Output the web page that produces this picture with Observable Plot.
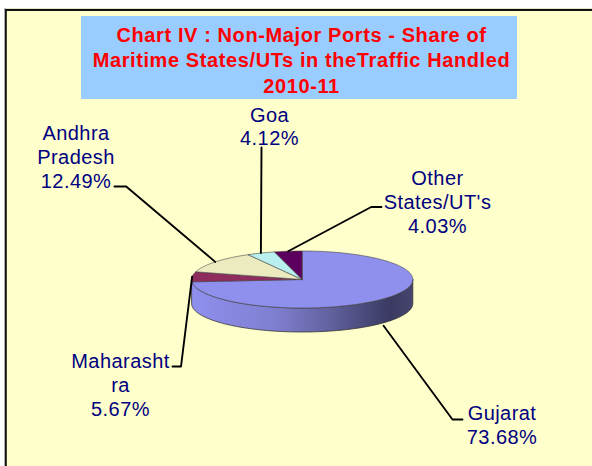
<!DOCTYPE html>
<html><head><meta charset="utf-8">
<style>html,body{margin:0;padding:0;background:#fff}svg{display:block}
.ttl text{letter-spacing:.6px}
.lbl text{letter-spacing:.45px}
</style>
<script src="https://cdn.jsdelivr.net/npm/d3@7"></script>
<script src="https://cdn.jsdelivr.net/npm/@observablehq/plot@0.6"></script>
</head><body><script>
// ---- data ----
const states = ["Gujarat","Maharashtra","Andhra Pradesh","Goa","Other States/UT's"];
const shares = [73.68,5.67,12.49,4.12,4.03];
const labelTexts = ["Gujarat\n73.68%","Maharasht\nra\n5.67%","Andhra\nPradesh\n12.49%","Goa\n4.12%","Other\nStates/UT's\n4.03%"];
const titleLines = ["Chart IV : Non-Major Ports - Share of","Maritime States/UTs in theTraffic Handled","2010-11"];
// ---- style / layout ----
const sliceColors = ["#8f8fee","#8e2c5e","#ecebc0","#b9efef","#5c0060"];
const pie = {cx:301.7, cy:279, rx:110.6, ry:28.5, depth:24};
const total = d3.sum(shares);
const cum = [0,...d3.cumsum(shares)];
const ang = v => v/total*2*Math.PI;
const px = (a,dy=0)=>({x:pie.cx+pie.rx*Math.sin(a), y:pie.cy-pie.ry*Math.cos(a)+dy});
function arcPts(a0,a1,dy=0){const n=Math.max(2,Math.ceil((a1-a0)/0.02));return d3.range(n+1).map(i=>px(a0+(a1-a0)*i/n,dy));}
const slices = states.map((s,i)=>[{x:pie.cx,y:pie.cy},...arcPts(ang(cum[i]),ang(cum[i+1])),{x:pie.cx,y:pie.cy}]);
const wall = [...arcPts(Math.PI/2,3*Math.PI/2),...arcPts(Math.PI/2,3*Math.PI/2,pie.depth).reverse()];
wall.push(wall[0]);
const mid = i => ang((cum[i]+cum[i+1])/2);
const leaders = [
 {i:0,dy:27,via:[[452,419],[462,419]]},
 {i:1,dy:0,via:[[180.5,366],[172,366]]},
 {i:2,dy:0,via:[[125.7,186],[114,186]]},
 {i:3,dy:0,via:[[261,147]]},
 {i:4,dy:0,via:[[370.7,206.5],[381,206.5]]}
].map(l=>[px(mid(l.i),l.dy),...l.via.map(([x,y])=>({x,y}))]);
const labelPos = [
 {x:501.5,y:424,lh:1.2},{x:120,y:384,lh:1.2},{x:75.5,y:156,lh:1.2},{x:269,y:126,lh:1.15},{x:437,y:200.5,lh:1.2}
].map((p,i)=>({...p,text:labelTexts[i]}));
const frame=[{x1:5.8,x2:610,y1:10,y2:490}];
const box=[{x1:81,x2:517,y1:16,y2:99}];
const titleData=titleLines.map((t,i)=>({t,x:301,y:35+25.3*i}));
const defs=()=>{const d=d3.create("svg:defs");const g=d.append("linearGradient").attr("id","wallGrad");
 [[0,"#8f8fee"],[.38,"#7f7fd0"],[.62,"#62629f"],[.9,"#3a3a62"],[1,"#45456e"]].forEach(([o,c])=>g.append("stop").attr("offset",o).attr("stop-color",c));return d.node();};

const chart=Plot.plot({
 width:592,height:466,margin:0,
 x:{domain:[0,592],range:[0,592],axis:null},
 y:{domain:[0,466],range:[0,466],axis:null},
 style:{background:"#fff"},
 marks:[
  defs,
  Plot.ruleY([8.5],{x1:4,x2:592,stroke:"#c9c592",strokeWidth:1}),
  Plot.ruleX([4.5],{y1:8,y2:466,stroke:"#aaaaaa",strokeWidth:1}),
  Plot.rect(frame,{x1:"x1",x2:"x2",y1:"y1",y2:"y2",fill:"#ffffcc",stroke:"#111",strokeWidth:2}),
  Plot.rect(box,{x1:"x1",x2:"x2",y1:"y1",y2:"y2",fill:"#99ccff"}),
  Plot.text(titleData,{x:"x",y:"y",text:"t",fill:"#ff0000",fontWeight:"bold",fontSize:20,fontFamily:"Liberation Sans",className:"ttl"}),
  Plot.line(wall,{x:"x",y:"y",fill:"url(#wallGrad)",stroke:"#333",strokeWidth:.8}),
  ...slices.map((s,i)=>Plot.line(s,{x:"x",y:"y",fill:sliceColors[i],stroke:"#444",strokeWidth:.6})),
  ...leaders.map(l=>Plot.line(l,{x:"x",y:"y",stroke:"#000",strokeWidth:1.9})),
  ...labelPos.map(p=>Plot.text([p],{x:"x",y:"y",text:"text",fill:"#000080",fontSize:20,lineHeight:p.lh,fontFamily:"Liberation Sans",className:"lbl"}))
 ]
});
document.body.appendChild(chart);
</script></body></html>
